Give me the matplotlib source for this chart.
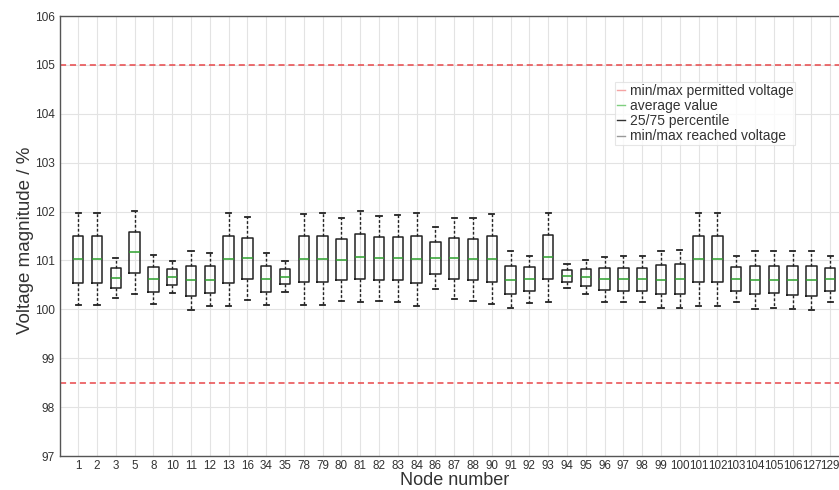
import matplotlib
matplotlib.use("Agg")
import matplotlib.pyplot as plt
from matplotlib.lines import Line2D

plt.rcParams['font.family'] = ['Liberation Sans', 'DejaVu Sans']

nodes = ["1", "2", "3", "5", "8", "10", "11", "12", "13", "16", "34", "35", "78", "79", "80",
         "81", "82", "83", "84", "86", "87", "88", "90", "91", "92", "93", "94", "95", "96", "97",
         "98", "99", "100", "101", "102", "103", "104", "105", "106", "127", "129"]
v_max = [101.98, 101.98, 101.04, 102.01, 101.11, 100.99, 101.20, 101.16, 101.98, 101.88, 101.15, 100.99, 101.96, 101.97, 101.87,
         102.02, 101.91, 101.93, 101.97, 101.69, 101.87, 101.87, 101.96, 101.20, 101.10, 101.98, 100.93, 101.01, 101.08, 101.09,
         101.09, 101.20, 101.22, 101.98, 101.98, 101.09, 101.20, 101.19, 101.20, 101.20, 101.09]
v_q3 = [101.51, 101.50, 100.84, 101.59, 100.86, 100.82, 100.89, 100.89, 101.51, 101.46, 100.88, 100.82, 101.49, 101.49, 101.44,
        101.55, 101.47, 101.47, 101.49, 101.38, 101.46, 101.44, 101.49, 100.89, 100.86, 101.52, 100.81, 100.83, 100.85, 100.85,
        100.85, 100.91, 100.93, 101.50, 101.51, 100.86, 100.89, 100.89, 100.89, 100.89, 100.85]
v_med = [101.03, 101.03, 100.65, 101.17, 100.63, 100.67, 100.59, 100.61, 101.03, 101.04, 100.62, 100.67, 101.02, 101.03, 101.01,
         101.08, 101.05, 101.04, 101.02, 101.06, 101.04, 101.02, 101.03, 100.61, 100.62, 101.08, 100.69, 100.67, 100.63, 100.63,
         100.63, 100.61, 100.63, 101.03, 101.03, 100.63, 100.60, 100.61, 100.60, 100.59, 100.63]
v_q1 = [100.54, 100.54, 100.44, 100.74, 100.35, 100.50, 100.28, 100.33, 100.54, 100.63, 100.35, 100.51, 100.55, 100.55, 100.60,
        100.63, 100.61, 100.60, 100.54, 100.73, 100.63, 100.60, 100.56, 100.32, 100.37, 100.63, 100.55, 100.48, 100.39, 100.38,
        100.37, 100.31, 100.32, 100.55, 100.55, 100.38, 100.31, 100.33, 100.29, 100.28, 100.38]
v_min = [100.08, 100.08, 100.24, 100.32, 100.11, 100.33, 99.98, 100.06, 100.07, 100.20, 100.09, 100.35, 100.08, 100.09, 100.17,
         100.15, 100.18, 100.15, 100.07, 100.42, 100.21, 100.17, 100.10, 100.03, 100.13, 100.16, 100.44, 100.31, 100.16, 100.15,
         100.14, 100.03, 100.02, 100.07, 100.07, 100.14, 100.01, 100.03, 100.00, 99.98, 100.14]
permitted_max = 105.0
permitted_min = 98.5
legend_labels = ["min/max permitted voltage", "average value", "25/75 percentile", "min/max reached voltage"]

fig = plt.figure(figsize=(8.39, 4.9), dpi=100)
W, H = 839, 490
ax = fig.add_axes([60 / W, (H - 456) / H, 790 / W, 440 / H])

stats = []
for i, n in enumerate(nodes):
    stats.append(dict(label=n, whislo=v_min[i], q1=v_q1[i], med=v_med[i], q3=v_q3[i], whishi=v_max[i], fliers=[]))

positions = list(range(1, len(nodes) + 1))
ax.bxp(stats, positions=positions, widths=0.55, showfliers=False,
       boxprops=dict(color='#222222', linewidth=1.1),
       medianprops=dict(color='#2ca02c', linewidth=1.1),
       whiskerprops=dict(color='#222222', linewidth=1.0, linestyle=(0, (2, 1.5))),
       capprops=dict(color='#222222', linewidth=1.3))

ax.axhline(permitted_max, color='#e8474a', linestyle=(0, (4, 2.5)), linewidth=1.1, zorder=1)
ax.axhline(permitted_min, color='#e8474a', linestyle=(0, (4, 2.5)), linewidth=1.1, zorder=1)

ax.set_ylim(97, 106)
ax.set_xlim(0.03, 0.03 + 790 / 18.8)
ax.set_yticks(range(97, 107))
ax.set_xticks(positions)
ax.set_xticklabels(nodes)
ax.grid(True, color='#e3e3e3', linewidth=0.8)
ax.set_axisbelow(True)
ax.tick_params(axis='x', length=0, labelsize=8.4, colors='#333333', pad=3)
ax.tick_params(axis='y', length=0, labelsize=8.6, colors='#333333', pad=4)
for s in ax.spines.values():
    s.set_color('#555555')
    s.set_linewidth(1.0)

ax.set_ylabel("Voltage magnitude / %", fontsize=13.5, color='#333333')
ax.yaxis.set_label_coords(-0.033, 0.49)
ax.set_xlabel("Node number", fontsize=13, color='#333333', labelpad=0)

handles = [Line2D([], [], color='#f4a3a3', lw=1),
           Line2D([], [], color='#7fcf7f', lw=1),
           Line2D([], [], color='#333333', lw=1),
           Line2D([], [], color='#999999', lw=1)]
leg = ax.legend(handles, legend_labels, loc='upper left', bbox_to_anchor=(615 / W, 1 - 82 / H),
                bbox_transform=fig.transFigure, borderaxespad=0, fontsize=10, handlelength=0.55,
                handletextpad=0.35, labelspacing=0.08, borderpad=0.15, frameon=True, fancybox=False)
leg.get_frame().set_edgecolor('#e0e0e0')
leg.get_frame().set_linewidth(0.8)
for t in leg.get_texts():
    t.set_color('#333333')

fig.savefig("out.png", dpi=100)
